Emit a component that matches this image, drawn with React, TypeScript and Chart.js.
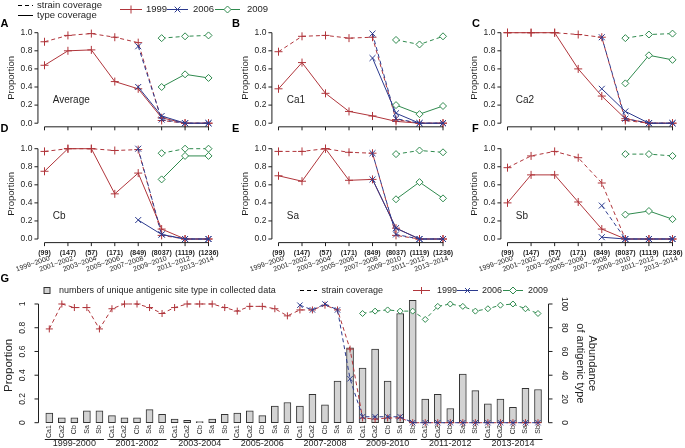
import React, { useEffect, useRef } from "react";
import { Chart, registerables } from "chart.js";

Chart.register(...registerables);

const W = 685;
const H = 448;
const FONT = "'Liberation Sans', Arial, Helvetica, sans-serif";
const RED = "#B0353B";
const BLUE = "#2B3A8E";
const GREEN = "#2F8A4E";
const AXIS = "#1f1f1f";

// ---------------- data ----------------
const periods = ["1999~2000", "2001~2002", "2003~2004", "2005~2006", "2007~2008", "2009~2010", "2011~2012", "2013~2014"];
const groupLabels = ["1999-2000", "2001-2002", "2003-2004", "2005-2006", "2007-2008", "2009-2010", "2011-2012", "2013-2014"];
const sampleSizes = ["(99)", "(147)", "(57)", "(171)", "(849)", "(8037)", "(1119)", "(1236)"];
const sites = ["Ca1", "Ca2", "Cb", "Sa", "Sb"];
const propTicks = [0, 0.2, 0.4, 0.6, 0.8, 1.0];
const propTickLabels = ["0.0", "0.2", "0.4", "0.6", "0.8", "1.0"];
const gPropTickLabels = ["0", "0.2", "0.4", "0.6", "0.8", "1"];
const abundTicks = [0, 20, 40, 60, 80, 100];

type Series = (number | null)[];
const N = null;

// Average
const avgStrain1999: Series = [0.90, 0.97, 0.99, 0.95, 0.89, 0.03, 0, 0];
const avgType1999: Series = [0.64, 0.80, 0.81, 0.46, 0.38, 0.06, 0, 0];
const avgStrain2006: Series = [N, N, N, N, 0.85, 0.04, 0, 0];
const avgType2006: Series = [N, N, N, N, 0.40, 0.08, 0, 0];
const avgStrain2009: Series = [N, N, N, N, N, 0.94, 0.96, 0.97];
const avgType2009: Series = [N, N, N, N, N, 0.40, 0.54, 0.50];
// Ca1
const ca1Strain1999: Series = [0.79, 0.96, 0.97, 0.94, 0.95, 0.04, 0, 0];
const ca1Type1999: Series = [0.38, 0.67, 0.33, 0.13, 0.08, 0.02, 0, 0];
const ca1Strain2006: Series = [N, N, N, N, 0.99, 0.05, 0, 0];
const ca1Type2006: Series = [N, N, N, N, 0.72, 0.11, 0, 0];
const ca1Strain2009: Series = [N, N, N, N, N, 0.92, 0.87, 0.96];
const ca1Type2009: Series = [N, N, N, N, N, 0.20, 0.10, 0.19];
// Ca2
const ca2Strain1999: Series = [1.0, 1.0, 1.0, 0.98, 0.95, 0.03, 0, 0];
const ca2Type1999: Series = [1.0, 1.0, 1.0, 0.60, 0.30, 0.05, 0, 0];
const ca2Strain2006: Series = [N, N, N, N, 0.95, 0.05, 0, 0];
const ca2Type2006: Series = [N, N, N, N, 0.38, 0.13, 0, 0];
const ca2Strain2009: Series = [N, N, N, N, N, 0.94, 0.98, 0.99];
const ca2Type2009: Series = [N, N, N, N, N, 0.44, 0.75, 0.70];
// Cb
const cbStrain1999: Series = [0.97, 1.0, 1.0, 0.98, 0.99, 0.04, 0, 0];
const cbType1999: Series = [0.75, 1.0, 1.0, 0.50, 0.73, 0.11, 0, 0];
const cbStrain2006: Series = [N, N, N, N, 1.0, 0.05, 0, 0];
const cbType2006: Series = [N, N, N, N, 0.21, 0.05, 0, 0];
const cbStrain2009: Series = [N, N, N, N, N, 0.95, 1.0, 1.0];
const cbType2009: Series = [N, N, N, N, N, 0.66, 0.92, 0.92];
// Sa
const saStrain1999: Series = [0.97, 0.97, 1.0, 0.96, 0.95, 0.04, 0, 0];
const saType1999: Series = [0.70, 0.64, 1.0, 0.65, 0.66, 0.12, 0, 0];
const saStrain2006: Series = [N, N, N, N, 0.95, 0.05, 0, 0];
const saType2006: Series = [N, N, N, N, 0.66, 0.12, 0, 0];
const saStrain2009: Series = [N, N, N, N, N, 0.94, 0.98, 0.96];
const saType2009: Series = [N, N, N, N, N, 0.44, 0.63, 0.45];
// Sb
const sbStrain1999: Series = [0.79, 0.92, 0.97, 0.90, 0.62, 0, 0, 0];
const sbType1999: Series = [0.40, 0.71, 0.71, 0.41, 0.11, 0, 0, 0];
const sbStrain2006: Series = [N, N, N, N, 0.37, 0, 0, 0];
const sbType2006: Series = [N, N, N, N, 0.02, 0, 0, 0];
const sbStrain2009: Series = [N, N, N, N, N, 0.94, 0.94, 0.92];
const sbType2009: Series = [N, N, N, N, N, 0.27, 0.31, 0.22];

// abundance of antigenic type (Ca1, Ca2, Cb, Sa, Sb) per period
const abund1999_2000 = [8, 4, 4, 10, 10];
const abund2001_2002 = [6, 4, 4, 11, 7];
const abund2003_2004 = [3, 2, 1, 3, 7];
const abund2005_2006 = [8, 10, 6, 14, 17];
const abund2007_2008 = [14, 24, 15, 35, 63];
const abund2009_2010 = [46, 62, 35, 92, 103];
const abund2011_2012 = [20, 24, 12, 41, 27];
const abund2013_2014 = [16, 20, 13, 29, 28];
const abundance = [abund1999_2000, abund2001_2002, abund2003_2004, abund2005_2006, abund2007_2008, abund2009_2010, abund2011_2012, abund2013_2014];

// ---------------- layout ----------------
type Panel = {
  name: string; letter: string; col: number; row: number;
  s99: Series; t99: Series; s06: Series; t06: Series; s09: Series; t09: Series;
};
const PANELS: Panel[] = [
  { name: "Average", letter: "A", col: 0, row: 0, s99: avgStrain1999, t99: avgType1999, s06: avgStrain2006, t06: avgType2006, s09: avgStrain2009, t09: avgType2009 },
  { name: "Ca1", letter: "B", col: 1, row: 0, s99: ca1Strain1999, t99: ca1Type1999, s06: ca1Strain2006, t06: ca1Type2006, s09: ca1Strain2009, t09: ca1Type2009 },
  { name: "Ca2", letter: "C", col: 2, row: 0, s99: ca2Strain1999, t99: ca2Type1999, s06: ca2Strain2006, t06: ca2Type2006, s09: ca2Strain2009, t09: ca2Type2009 },
  { name: "Cb", letter: "D", col: 0, row: 1, s99: cbStrain1999, t99: cbType1999, s06: cbStrain2006, t06: cbType2006, s09: cbStrain2009, t09: cbType2009 },
  { name: "Sa", letter: "E", col: 1, row: 1, s99: saStrain1999, t99: saType1999, s06: saStrain2006, t06: saType2006, s09: saStrain2009, t09: saType2009 },
  { name: "Sb", letter: "F", col: 2, row: 1, s99: sbStrain1999, t99: sbType1999, s06: sbStrain2006, t06: sbType2006, s09: sbStrain2009, t09: sbType2009 },
];
const COL_X: [number, number][] = [[44.5, 208.5], [278.5, 443], [507.5, 672.5]];
const ROW_Y: [number, number][] = [[32.7, 123.2], [148.7, 239]];
const LETTER_X = [0.5, 232, 472];
const LETTER_Y = [23.5, 128.5];

// ---------------- helpers ----------------
function txt(ctx: CanvasRenderingContext2D, s: string, x: number, y: number,
  o: { size?: number; bold?: boolean; align?: CanvasTextAlign; base?: CanvasTextBaseline; rot?: number; color?: string } = {}) {
  ctx.save();
  ctx.font = `${o.bold ? "bold " : ""}${o.size ?? 9}px ${FONT}`;
  ctx.fillStyle = o.color ?? AXIS;
  ctx.textAlign = o.align ?? "left";
  ctx.textBaseline = o.base ?? "middle";
  ctx.translate(x, y);
  if (o.rot) ctx.rotate(o.rot);
  ctx.fillText(s, 0, 0);
  ctx.restore();
}
function seg(ctx: CanvasRenderingContext2D, x1: number, y1: number, x2: number, y2: number, color = AXIS, dash: number[] = []) {
  ctx.save();
  ctx.strokeStyle = color; ctx.lineWidth = 1; ctx.setLineDash(dash);
  ctx.beginPath(); ctx.moveTo(x1, y1); ctx.lineTo(x2, y2); ctx.stroke();
  ctx.restore();
}
function marker(ctx: CanvasRenderingContext2D, kind: string, x: number, y: number, r: number, color: string) {
  ctx.save();
  ctx.strokeStyle = color; ctx.lineWidth = 1; ctx.setLineDash([]);
  ctx.beginPath();
  if (kind === "cross") {
    ctx.moveTo(x - r, y); ctx.lineTo(x + r, y); ctx.moveTo(x, y - r); ctx.lineTo(x, y + r);
  } else if (kind === "crossRot") {
    const d = r * Math.SQRT1_2;
    ctx.moveTo(x - d, y - d); ctx.lineTo(x + d, y + d); ctx.moveTo(x - d, y + d); ctx.lineTo(x + d, y - d);
  } else {
    ctx.moveTo(x, y - r); ctx.lineTo(x + r, y); ctx.lineTo(x, y + r); ctx.lineTo(x - r, y); ctx.closePath();
    ctx.fillStyle = "#fff"; ctx.fill();
  }
  ctx.stroke();
  ctx.restore();
}
function yearLegend(ctx: CanvasRenderingContext2D, y: number, xs: number[][], size: number, r: number) {
  const items: [string, string, string][] = [["1999", RED, "cross"], ["2006", BLUE, "crossRot"], ["2009", GREEN, "rectRot"]];
  items.forEach(([label, color, kind], i) => {
    const [l0, l1, tx] = xs[i];
    seg(ctx, l0, y, l1, y, color);
    marker(ctx, kind, (l0 + l1) / 2, y, kind === "rectRot" ? 3.5 : r, color);
    txt(ctx, label, tx, y, { size });
  });
}

function lineDs(pts: { x: number; y: number }[], color: string, dashed: boolean, style: any, r: number, order: number) {
  return {
    type: "line" as const,
    data: pts,
    borderColor: color,
    borderWidth: 1,
    borderDash: dashed ? [4, 3] : [],
    pointStyle: style,
    pointRadius: r,
    pointHoverRadius: r,
    pointBorderColor: color,
    pointBackgroundColor: style === "rectRot" ? "#fff" : color,
    pointBorderWidth: 1,
    fill: false,
    tension: 0,
    clip: false as any,
    order,
    yAxisID: "y",
  };
}
const toPts = (arr: Series) =>
  arr.map((v, i) => (v == null ? null : { x: i, y: v })).filter((p) => p !== null) as { x: number; y: number }[];

// ---------------- panel charts ----------------
function panelConfig(p: Panel, withLegend: boolean): any {
  const [x0, x7] = COL_X[p.col];
  const [y1, y0] = ROW_Y[p.row];
  const ux = (x7 - x0) / 7;
  const uy = y0 - y1;
  const left = x0 - 0.28 * ux, right = x7 + 0.28 * ux;
  const top = y1 - 0.04 * uy, bottom = y0 + 0.04 * uy;

  const plugin = {
    id: "decor" + p.letter,
    afterDraw(chart: any) {
      const ctx: CanvasRenderingContext2D = chart.ctx;
      const a = chart.chartArea;
      const xs = chart.scales.x, ys = chart.scales.y;
      // y axis
      const ax = a.left;
      seg(ctx, ax, ys.getPixelForValue(0), ax, ys.getPixelForValue(1));
      propTicks.forEach((v, i) => {
        const py = ys.getPixelForValue(v);
        seg(ctx, ax, py, ax - 3.5, py);
        txt(ctx, propTickLabels[i], ax - 5.5, py, { size: 8.5, align: "right" });
      });
      txt(ctx, "Proportion", ax - 27, (ys.getPixelForValue(0) + ys.getPixelForValue(1)) / 2,
        { size: 9.5, align: "center", rot: -Math.PI / 2 });
      // x axis
      const by = a.bottom;
      seg(ctx, xs.getPixelForValue(0), by, xs.getPixelForValue(7), by);
      periods.forEach((per, i) => {
        const px = xs.getPixelForValue(i);
        seg(ctx, px, by, px, by + 3.5);
        if (p.row === 1) {
          txt(ctx, sampleSizes[i], px, by + 10, { size: 7, bold: true, align: "center" });
          txt(ctx, per, px + 5, by + 15.5, { size: 7, align: "right", rot: (-19 * Math.PI) / 180 });
        }
      });
      // panel name
      txt(ctx, p.name, xs.getPixelForValue(0.35), ys.getPixelForValue(0.25), { size: 10 });
      // letter
      txt(ctx, p.letter, LETTER_X[p.col], LETTER_Y[p.row], { size: 11, bold: true, color: "#000" });
      if (withLegend) {
        seg(ctx, 18, 5.5, 33, 5.5, "#000", [4, 3]);
        seg(ctx, 18, 15.5, 33, 15.5, "#000");
        txt(ctx, "strain coverage", 37, 5.5, { size: 9.5 });
        txt(ctx, "type coverage", 37, 15.5, { size: 9.5 });
        yearLegend(ctx, 9.5, [[120, 142, 146], [167, 188, 193], [215, 240, 247]], 9.5, 4);
      }
    },
  };

  return {
    type: "line",
    data: {
      datasets: [
        lineDs(toPts(p.s99), RED, true, "cross", 4, 6),
        lineDs(toPts(p.t99), RED, false, "cross", 4, 5),
        lineDs(toPts(p.s06), BLUE, true, "crossRot", 4.2, 4),
        lineDs(toPts(p.t06), BLUE, false, "crossRot", 4.2, 3),
        lineDs(toPts(p.s09), GREEN, true, "rectRot", 3.5, 2),
        lineDs(toPts(p.t09), GREEN, false, "rectRot", 3.5, 1),
      ],
    },
    options: {
      responsive: false,
      animation: false,
      devicePixelRatio: 1,
      events: [],
      layout: { padding: { left, top, right: W - right, bottom: H - bottom } },
      plugins: { legend: { display: false }, tooltip: { enabled: false } },
      scales: {
        x: { type: "linear", min: -0.28, max: 7.28, display: false },
        y: { type: "linear", min: -0.04, max: 1.04, display: false },
      },
    },
    plugins: [plugin],
  };
}

// ---------------- panel G ----------------
function interleave(bySite: Series[]) {
  const out: { x: number; y: number }[] = [];
  for (let per = 0; per < periods.length; per++) {
    for (let s = 0; s < sites.length; s++) {
      const v = bySite[s][per];
      if (v != null) out.push({ x: per * sites.length + s, y: v });
    }
  }
  return out;
}

function gConfig(): any {
  const left = 38.5, right = 548.5, top = 298, bottom = 428;
  const barPts: { x: number; y: number }[] = [];
  abundance.forEach((vals, per) => vals.forEach((v, s) => barPts.push({ x: per * sites.length + s, y: v })));

  const plugin = {
    id: "decorG",
    afterDraw(chart: any) {
      const ctx: CanvasRenderingContext2D = chart.ctx;
      const a = chart.chartArea;
      const xs = chart.scales.x, ys = chart.scales.y, y2 = chart.scales.y2;
      // left axis
      seg(ctx, a.left, ys.getPixelForValue(0), a.left, ys.getPixelForValue(1));
      propTicks.forEach((v, i) => {
        const py = ys.getPixelForValue(v);
        seg(ctx, a.left, py, a.left - 4, py);
        txt(ctx, gPropTickLabels[i], a.left - 16, py, { size: 8.5, align: "center", rot: -Math.PI / 2 });
      });
      txt(ctx, "Proportion", 9, (ys.getPixelForValue(0) + ys.getPixelForValue(1)) / 2 + 2,
        { size: 11.5, align: "center", rot: -Math.PI / 2 });
      // right axis
      seg(ctx, a.right, y2.getPixelForValue(0), a.right, y2.getPixelForValue(100));
      abundTicks.forEach((v) => {
        const py = y2.getPixelForValue(v);
        seg(ctx, a.right, py, a.right + 4, py);
        txt(ctx, String(v), a.right + 16, py, { size: 8.5, align: "center", rot: Math.PI / 2 });
      });
      const midR = (y2.getPixelForValue(0) + y2.getPixelForValue(100)) / 2;
      txt(ctx, "Abundance", 592, midR, { size: 11, align: "center", rot: Math.PI / 2 });
      txt(ctx, "of antigenic type", 580.5, midR, { size: 11, align: "center", rot: Math.PI / 2 });
      // site labels and period groups
      const baseY = ys.getPixelForValue(0);
      groupLabels.forEach((g, per) => {
        sites.forEach((s, k) => {
          const px = xs.getPixelForValue(per * sites.length + k);
          txt(ctx, s, px, baseY + 2.5, { size: 7, align: "right", rot: -Math.PI / 2 });
        });
        const gx0 = xs.getPixelForValue(per * sites.length) - 4.5;
        const gx1 = xs.getPixelForValue(per * sites.length + 4) + 4.5;
        seg(ctx, gx0, 439.5, gx1, 439.5);
        txt(ctx, g, (gx0 + gx1) / 2, 444, { size: 9, align: "center" });
      });
      // legend
      ctx.save();
      ctx.fillStyle = "#d3d3d3"; ctx.strokeStyle = "#333"; ctx.lineWidth = 1;
      ctx.fillRect(44, 287.5, 6, 6); ctx.strokeRect(44, 287.5, 6, 6);
      ctx.restore();
      txt(ctx, "numbers of unique antigenic site type in collected data", 59, 290.5, { size: 9 });
      seg(ctx, 300, 290.5, 317, 290.5, "#000", [4, 3]);
      txt(ctx, "strain coverage", 321.5, 290.5, { size: 9 });
      yearLegend(ctx, 290.5, [[413, 430, 437], [457, 478, 482], [503, 523, 528]], 9, 3.5);
      txt(ctx, "G", 0.5, 279, { size: 11, bold: true, color: "#000" });
    },
  };

  return {
    type: "bar",
    data: {
      datasets: [
        lineDs(interleave([ca1Strain1999, ca2Strain1999, cbStrain1999, saStrain1999, sbStrain1999]), RED, true, "cross", 3.5, 3),
        lineDs(interleave([ca1Strain2006, ca2Strain2006, cbStrain2006, saStrain2006, sbStrain2006]), BLUE, true, "crossRot", 3.8, 2),
        lineDs(interleave([ca1Strain2009, ca2Strain2009, cbStrain2009, saStrain2009, sbStrain2009]), GREEN, true, "rectRot", 3, 1),
        {
          type: "bar",
          data: barPts,
          yAxisID: "y2",
          backgroundColor: "#d3d3d3",
          borderColor: "#333",
          borderWidth: 1,
          borderSkipped: false,
          barThickness: 7,
          order: 10,
        },
      ],
    },
    options: {
      responsive: false,
      animation: false,
      devicePixelRatio: 1,
      events: [],
      layout: { padding: { left, top, right: W - right, bottom: H - bottom } },
      plugins: { legend: { display: false }, tooltip: { enabled: false } },
      scales: {
        x: { type: "linear", min: -0.862, max: 39.838, offset: false, display: false },
        y: { type: "linear", min: -0.04465, max: 1.0505, display: false },
        y2: { type: "linear", min: -4.465, max: 105.05, display: false, position: "right" },
      },
    },
    plugins: [plugin],
  };
}

export default function App() {
  const canvases = useRef<(HTMLCanvasElement | null)[]>([]);
  useEffect(() => {
    const charts: Chart[] = [];
    PANELS.forEach((p, i) => {
      const c = canvases.current[i];
      if (c) charts.push(new Chart(c, panelConfig(p, i === 0)));
    });
    const g = canvases.current[6];
    if (g) charts.push(new Chart(g, gConfig()));
    return () => charts.forEach((c) => c.destroy());
  }, []);
  return (
    <div style={{ position: "fixed", left: 0, top: 0, width: W, height: H, background: "#fff", overflow: "hidden" }}>
      {Array.from({ length: 7 }).map((_, i) => (
        <canvas
          key={i}
          ref={(el) => { canvases.current[i] = el; }}
          width={W}
          height={H}
          style={{ position: "absolute", left: 0, top: 0, width: W, height: H }}
        />
      ))}
    </div>
  );
}
